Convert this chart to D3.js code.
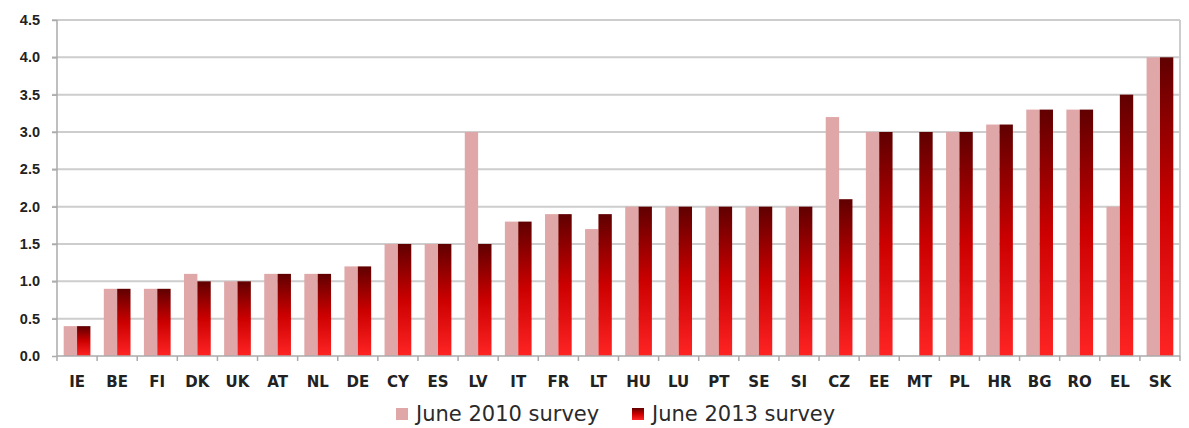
<!DOCTYPE html>
<html>
<head>
<meta charset="utf-8">
<title>Surveys</title>
<script src="https://d3js.org/d3.v7.min.js"></script>
<style>
body {
	margin: 0;
	background-color: white;
	font-family: "DejaVu Sans", Verdana, sans-serif;
}
.grid line {
	stroke: #cdcdcd;
	stroke-width: 2;
}
.axis path, .axis line {
	stroke: #aaaaaa;
	stroke-width: 1.5;
}
.axis text {
	fill: #222222;
	font-weight: bold;
}
.legend text {
	fill: #2a2a2a;
	font-size: 21px;
}
</style>
</head>
<body>
<div id="graph"></div>
<script>
const countries = ["IE", "BE", "FI", "DK", "UK", "AT", "NL", "DE", "CY", "ES", "LV", "IT", "FR", "LT",
	"HU", "LU", "PT", "SE", "SI", "CZ", "EE", "MT", "PL", "HR", "BG", "RO", "EL", "SK"];
const june2010 = [0.4, 0.9, 0.9, 1.1, 1.0, 1.1, 1.1, 1.2, 1.5, 1.5, 3.0, 1.8, 1.9, 1.7,
	2.0, 2.0, 2.0, 2.0, 2.0, 3.2, 3.0, null, 3.0, 3.1, 3.3, 3.3, 2.0, 4.0];
const june2013 = [0.4, 0.9, 0.9, 1.0, 1.0, 1.1, 1.1, 1.2, 1.5, 1.5, 1.5, 1.8, 1.9, 1.9,
	2.0, 2.0, 2.0, 2.0, 2.0, 2.1, 3.0, 3.0, 3.0, 3.1, 3.3, 3.3, 3.5, 4.0];
const yTicks = [0, 0.5, 1, 1.5, 2, 2.5, 3, 3.5, 4, 4.5];
const seriesNames = ["June 2010 survey", "June 2013 survey"];

(function() {
"use strict";
const width = 1189, height = 428;
const margin = {top: 20, left: 57, right: 9, bottom: 72};
const innerW = width - margin.left - margin.right;
const innerH = height - margin.top - margin.bottom;

const svg = d3.select("#graph").append("svg")
	.attr("width", width)
	.attr("height", height);

const defs = svg.append("defs");
const grad = defs.append("linearGradient")
	.attr("id", "redGrad")
	.attr("x1", 0).attr("y1", 0).attr("x2", 0).attr("y2", 1);
grad.append("stop").attr("offset", "0%").attr("stop-color", "#600000");
grad.append("stop").attr("offset", "50%").attr("stop-color", "#cc0000");
grad.append("stop").attr("offset", "100%").attr("stop-color", "#ff2424");

const g = svg.append("g")
	.attr("transform", "translate(" + margin.left + "," + margin.top + ")");

const x = d3.scaleBand().domain(countries).range([0, innerW]).paddingInner(0.334).paddingOuter(0.167);
const xSub = d3.scaleBand().domain([0, 1]).range([0, x.bandwidth()]);
const y = d3.scaleLinear().domain([0, 4.5]).range([innerH, 0]);

// gridlines
g.append("g")
	.attr("class", "grid")
	.selectAll("line")
	.data(yTicks.filter(d => d > 0))
	.join("line")
	.attr("x1", -5).attr("x2", innerW)
	.attr("y1", d => y(d)).attr("y2", d => y(d));

// right border
g.append("line")
	.attr("x1", innerW).attr("x2", innerW)
	.attr("y1", 0).attr("y2", innerH)
	.attr("stroke", "#cdcdcd").attr("stroke-width", 2);

// bars
const series = [june2010, june2013];
const fills = ["#dfa7a7", "url(#redGrad)"];
series.forEach((vals, s) => {
	g.append("g")
		.selectAll("rect")
		.data(countries.map((c, i) => ({c: c, v: vals[i]})).filter(d => d.v !== null))
		.join("rect")
		.attr("x", d => x(d.c) + xSub(s))
		.attr("width", xSub.bandwidth())
		.attr("y", d => y(d.v))
		.attr("height", d => innerH - y(d.v))
		.attr("fill", fills[s]);
});

// y axis
const yAxis = g.append("g")
	.attr("class", "axis")
	.call(d3.axisLeft(y).tickValues(yTicks).tickFormat(d3.format(".1f")).tickSize(5).tickPadding(12));
yAxis.selectAll("text").style("font-size", "14.5px");
yAxis.select(".domain").attr("d", "M0,0V" + innerH);

// x axis with ticks between categories
const xAxis = g.append("g")
	.attr("class", "axis")
	.attr("transform", "translate(0," + innerH + ")");
xAxis.append("line")
	.attr("x1", 0).attr("x2", innerW)
	.attr("y1", 0).attr("y2", 0);
const step = innerW / countries.length;
xAxis.selectAll(".tick")
	.data(d3.range(countries.length + 1))
	.join("line")
	.attr("class", "tick")
	.attr("x1", d => d * step).attr("x2", d => d * step)
	.attr("y1", 0).attr("y2", 5);
xAxis.selectAll("text")
	.data(countries)
	.join("text")
	.attr("x", d => x(d) + x.bandwidth() / 2)
	.attr("y", 31)
	.attr("text-anchor", "middle")
	.style("font-size", "15px")
	.text(d => d);

// legend
const legend = svg.append("g").attr("class", "legend");
const legendX = [396, 632];
seriesNames.forEach((name, i) => {
	legend.append("rect")
		.attr("x", legendX[i]).attr("y", 408)
		.attr("width", 12).attr("height", 12)
		.attr("fill", fills[i]);
	legend.append("text")
		.attr("x", legendX[i] + 20).attr("y", 421)
		.text(name);
});
})();
</script>
</body>
</html>
